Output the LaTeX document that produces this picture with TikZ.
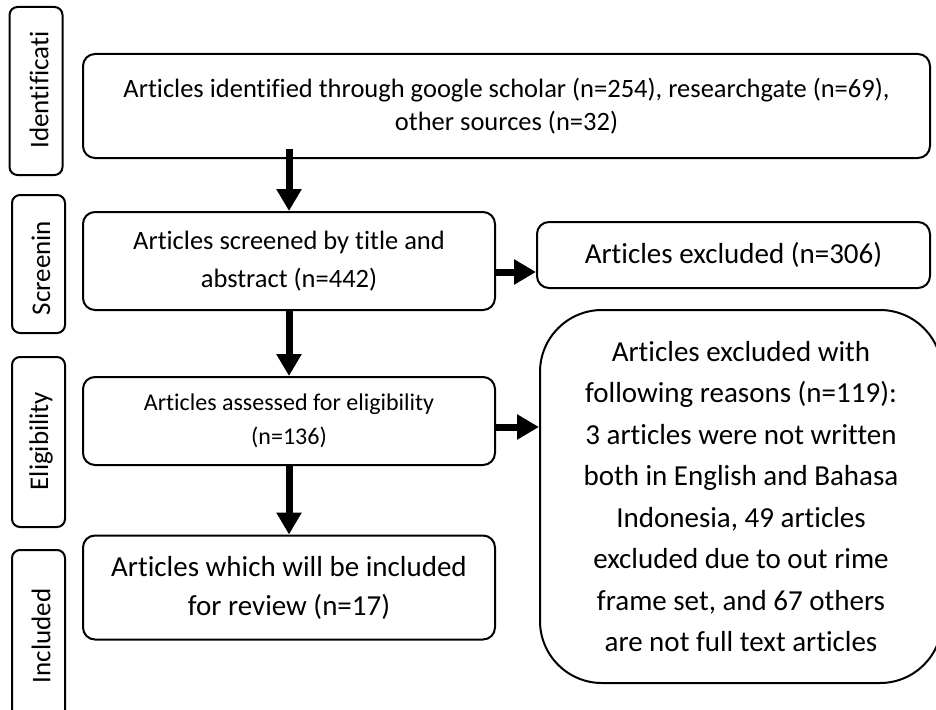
\documentclass[tikz,border=0pt]{standalone}
\usepackage{fontspec}
\setmainfont{Carlito}[Ligatures={NoCommon}]
\usetikzlibrary{arrows.meta}
\newcommand{\fs}[2]{\fontsize{#1}{#2}\selectfont}

\begin{document}
\begin{tikzpicture}[x=1pt, y=-1pt,
  box/.style={draw, line width=2pt, rounded corners=12pt, align=center, inner sep=0pt},
  stage/.style={draw, line width=2pt, rounded corners=8pt, minimum width=53pt, inner sep=0pt},
  stagetext/.style={rotate=90, font=\fs{27}{30}},
  flow/.style={line width=7pt, -{Triangle[width=24pt,length=22pt]}}]
\useasboundingbox (0,0) rectangle (936,709);
% stage boxes on the left
\node[stage, minimum height=168pt] (sid) at (36,91) {};
\node[stage, minimum height=138pt] (ssc) at (38.5,264) {};
\node[stage, minimum height=170pt] (sel) at (38.5,442) {};
\node[stage, minimum height=168pt] (sin) at (38.5,634) {};
\node[stagetext] (tid) at (39,90) {Identificati};
\node[stagetext] (tsc) at (41,268) {Screenin};
\node[stagetext] (tel) at (41,441) {Eligibility};
\node[stagetext] (tin) at (41,636) {Included};
% flow boxes
\node[box, minimum width=847pt, minimum height=104pt, font=\fs{26.5}{33}] (ident) at (506.5,106)
  {Articles identified through google scholar (n=254), researchgate (n=69),\\ other sources (n=32)};
\node[box, minimum width=412pt, minimum height=98pt, font=\fs{26.5}{38}] (screen) at (289,261)
  {Articles screened by title and\\ abstract (n=442)};
\node[box, minimum width=393pt, minimum height=66pt, font=\fs{29}{34}] (excl) at (733.5,255)
  {Articles excluded (n=306)};
\node[box, minimum width=412pt, minimum height=88pt, font=\fs{24}{34}] (elig) at (289,421)
  {Articles assessed for eligibility\\ (n=136)};
\node[box, minimum width=412pt, minimum height=104pt, font=\fs{29}{39}] (incl) at (289,587.5)
  {Articles which will be included\\ for review (n=17)};
\node[box, rounded corners=62pt, minimum width=402pt, minimum height=373pt, font=\fs{29}{41.5}] (reasons) at (741,496.5)
  {Articles excluded with\\ following reasons (n=119):\\ 3 articles were not written\\ both in English and Bahasa\\ Indonesia, 49 articles\\ excluded due to out rime\\ frame set, and 67 others\\ are not full text articles};
% arrows
\draw[flow] ([yshift=10pt]ident.south -| screen.north) -- (screen.north);
\draw[flow] (screen.south) -- (elig.north);
\draw[flow] (elig.south) -- (incl.north);
\draw[flow] ([yshift=-11pt]screen.east) -- ([yshift=-11pt]screen.east -| excl.west);
\draw[flow] ([yshift=-6pt]elig.east) -- ([yshift=-6pt]elig.east -| reasons.west);
\end{tikzpicture}
\end{document}
